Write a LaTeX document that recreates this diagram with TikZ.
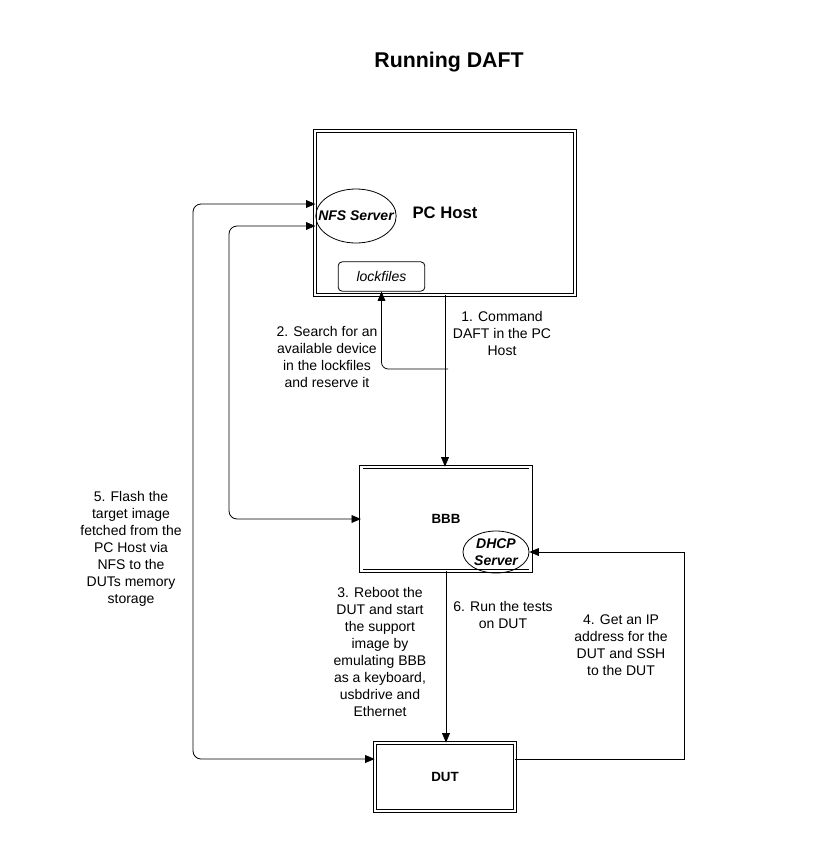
\documentclass[tikz,border=0pt]{standalone}
\usepackage{fontspec}
\setmainfont{Liberation Sans}
\usepackage{tikz}
\usetikzlibrary{positioning}
\usetikzlibrary{shapes,arrows}

\tikzset{
  box/.style={draw,double,double distance=1.8pt,line width=0.6pt,inner sep=0pt,font=\bfseries\fontsize{10}{12}\selectfont},
  srv/.style={draw,ellipse,align=center,font=\bfseries\itshape\fontsize{10.5}{12}\selectfont},
  lbl/.style={align=center,inner sep=0pt,font=\fontsize{10.5}{12.75}\selectfont}
}

\begin{document}
\begin{tikzpicture}[>=triangle 45,x=0.75pt,y=-0.75pt,line width=0.6pt]
\useasboundingbox (0,0) rectangle (814,861);

\node[font=\bfseries\fontsize{16}{19}\selectfont] (title) at (449,62) {Running DAFT};

\node[box,minimum width=195pt,minimum height=123pt,font=\bfseries\fontsize{12.5}{14}\selectfont] (pchost) at (445,213) {PC Host};
\node[srv,inner xsep=-7pt,inner ysep=0pt,minimum height=40.5pt] (nfs) at (356,216) {NFS Server};
\node[draw,rounded corners=3pt,minimum width=65pt,minimum height=22pt,inner sep=0pt,font=\itshape\fontsize{10.5}{12}\selectfont] (lockfiles) at (381.5,276.5) {lockfiles};

\node[box,minimum width=127pt,minimum height=78pt] (bbb) at (446,519) {BBB};
\node[srv,inner sep=0pt,minimum width=49.5pt,minimum height=31.5pt,font=\bfseries\itshape\fontsize{10.5}{12.5}\selectfont] (dhcp) at (496,552) {DHCP\\Server};

\node[box,minimum width=105pt,minimum height=51pt] (dut) at (445,777) {DUT};

% labels
\node[lbl] (cmd) at (502,333) {1. Command\\DAFT in the PC\\Host};
\node[lbl] (search) at (327,357) {2. Search for an\\available device\\in the lockfiles\\and reserve it};
\node[lbl] (reboot) at (380,652) {3. Reboot the\\DUT and start\\the support\\image by\\emulating BBB\\as a keyboard,\\usbdrive and\\Ethernet};
\node[lbl] (ip) at (621,645) {4. Get an IP\\address for the\\DUT and SSH\\to the DUT};
\node[lbl] (flash) at (131,549) {5. Flash the\\target image\\fetched from the\\PC Host via\\NFS to the\\DUTs memory\\storage};
\node[lbl] (tests) at (503,615) {6. Run the tests\\on DUT};

\coordinate (srch) at (448,369);

\draw[->] (pchost.south) -- (pchost.south |- bbb.north);
\draw[->,rounded corners=5pt] (srch) -| (lockfiles.south);
\draw[->] (bbb.south) -- (bbb.south |- dut.north);
\draw[->] ([yshift=13.5pt]dut.east) -| (684,552) -- (dhcp.east);
\draw[<->,rounded corners=6pt] ([yshift=9pt]nfs.west) -| (193,759) -- ([yshift=13.5pt]dut.west);
\draw[<->,rounded corners=6pt] ([yshift=-7.5pt]nfs.west) -| (229,519) -- (bbb.west);

\end{tikzpicture}
\end{document}
